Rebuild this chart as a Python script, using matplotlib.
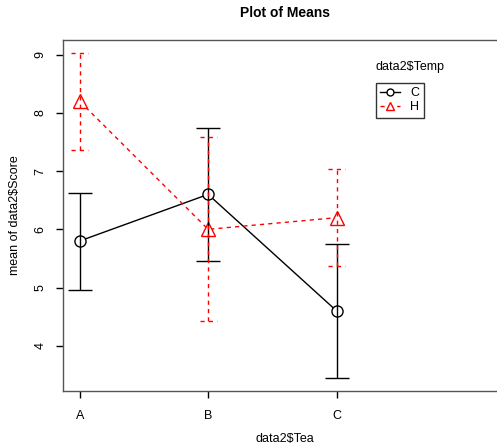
import matplotlib
matplotlib.use("Agg")
import matplotlib.pyplot as plt
from matplotlib.lines import Line2D

plt.rcParams['font.family'] = ['Liberation Sans', 'DejaVu Sans']

categories = ["A", "B", "C"]
c_mean = [5.8, 6.6, 4.6]
c_upper = [6.63, 7.74, 5.74]
c_lower = [4.96, 5.46, 3.45]
h_mean = [8.2, 6.0, 6.2]
h_upper = [9.03, 7.58, 7.03]
h_lower = [7.36, 4.42, 5.37]
y_ticks = [4, 5, 6, 7, 8, 9]

W, H = 497, 448
fig = plt.figure(figsize=(W / 100, H / 100), dpi=100)
ax = fig.add_axes([63.3 / W, 1 - 390.7 / H, (507 - 63.3) / W, (390.7 - 40) / H])

x = list(range(1, len(categories) + 1))

def errs(mean, up, lo):
    return [[m - l for m, l in zip(mean, lo)], [u - m for u, m in zip(up, mean)]]

# connecting lines + markers (white face gives R's type="b" gaps)
ax.plot(x, c_mean, color='black', lw=1, marker='o', ms=8, mfc='white',
        mec='black', mew=1, zorder=2)
ax.plot(x, h_mean, color='red', lw=1, ls=(0, (3, 3)), marker='^', ms=10,
        mfc='white', mec='red', mew=1, zorder=2)

# C error bars
ax.errorbar(x, c_mean, yerr=errs(c_mean, c_upper, c_lower), fmt='none',
            ecolor='black', elinewidth=1, capsize=8.5, capthick=1, zorder=3)

# H error bars (dashed)
eb = ax.errorbar(x, h_mean, yerr=errs(h_mean, h_upper, h_lower), fmt='none',
                 ecolor='red', elinewidth=1, capsize=0, zorder=4)
for lc in eb[2]:
    lc.set_linestyle((0, (3, 3)))
for xi, lo, up in zip(x, h_lower, h_upper):
    for yv in (lo, up):
        ax.plot([xi - 0.066, xi + 0.066], [yv, yv], color='red', lw=1,
                ls=(0, (3, 3)), zorder=4)

ax.set_xlim(0.872, 4.328)
ax.set_ylim(3.227, 9.253)
ax.set_xticks(x)
ax.set_xticklabels(categories)
ax.set_yticks(y_ticks)
ax.set_yticklabels([str(t) for t in y_ticks], rotation=90, va='center')
ax.tick_params(axis='both', length=5, width=1, labelsize=9, color='black')
ax.tick_params(axis='x', pad=9)
ax.tick_params(axis='y', pad=7)
for s in ax.spines.values():
    s.set_color('#555555')
    s.set_linewidth(1)

fig.text(285 / W, 1 - 439 / H, "data2$Tea", fontsize=9, ha='center', va='center')
fig.text(15 / W, 1 - 215 / H, "mean of data2$Score", fontsize=9, ha='center',
         va='center', rotation=90)
fig.text(285 / W, 1 - 13 / H, "Plot of Means", fontsize=10, fontweight='bold',
         ha='center', va='center')

handles = [
    Line2D([], [], color='black', lw=1, marker='o', ms=5, mfc='white', mec='black'),
    Line2D([], [], color='red', lw=1, ls=(0, (3, 3)), marker='^', ms=6, mfc='white', mec='red'),
]
leg = ax.legend(handles, ["C", "H"], loc='upper left',
                bbox_to_anchor=(376 / W, 1 - 83 / H), bbox_transform=fig.transFigure,
                borderaxespad=0, fancybox=False, fontsize=9, handlelength=1.6,
                handletextpad=0.8, borderpad=0.35, labelspacing=0.15)
leg.get_frame().set_edgecolor('black')
leg.get_frame().set_linewidth(1)
fig.text(376 / W, 1 - 67 / H, "data2$Temp", fontsize=9, ha='left', va='center')

fig.savefig("out.png", dpi=100)
